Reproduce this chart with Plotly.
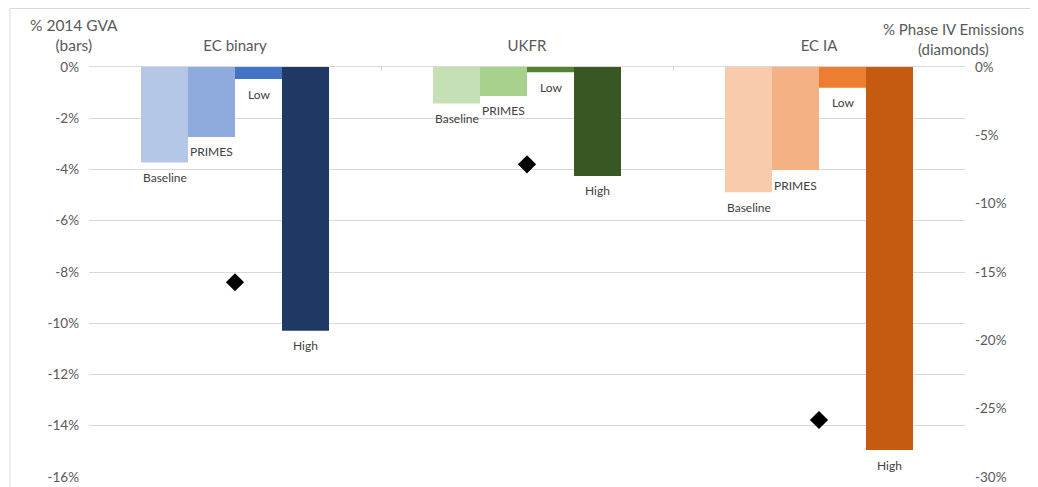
import plotly.graph_objects as go

groups = ["EC binary", "UKFR", "EC IA"]
series = ["Baseline", "PRIMES", "Low", "High"]
gva_baseline = [-3.73, -1.42, -4.89]
gva_primes = [-2.73, -1.13, -4.02]
gva_low = [-0.47, -0.20, -0.81]
gva_high = [-10.29, -4.25, -14.95]
emissions = [-15.75, -7.12, -25.83]

colors_baseline = ["#b4c7e7", "#c5e0b4", "#f8cbad"]
colors_primes = ["#8faadc", "#a9d18e", "#f4b183"]
colors_low = ["#4472c4", "#548235", "#ed7d31"]
colors_high = ["#203864", "#385723", "#c55a11"]

gva_ticks = [0, -2, -4, -6, -8, -10, -12, -14, -16]
gva_ticktext = ["0%", "-2%", "-4%", "-6%", "-8%", "-10%", "-12%", "-14%", "-16%"]
em_ticks = [0, -5, -10, -15, -20, -25, -30]
em_ticktext = ["0%", "-5%", "-10%", "-15%", "-20%", "-25%", "-30%"]

series_values = [gva_baseline, gva_primes, gva_low, gva_high]
series_colors = [colors_baseline, colors_primes, colors_low, colors_high]

FONT = "Lato, 'Open Sans', sans-serif"
GREY = "#595959"

fig = go.Figure()
for name, vals, cols in zip(series, series_values, series_colors):
    fig.add_trace(go.Bar(x=groups, y=vals, name=name, marker=dict(color=cols, line=dict(width=0)),
                         yaxis="y"))

fig.add_trace(go.Scatter(x=groups, y=emissions, yaxis="y2", mode="markers",
                         marker=dict(symbol="diamond", size=14, color="black"), name="Emissions"))

# bar labels below each bar
bar_w = 47
for i, (name, vals) in enumerate(zip(series, series_values)):
    for g, v in zip(groups, vals):
        fig.add_annotation(x=g, y=v, xref="x", yref="y", text=name, showarrow=False,
                           xshift=(i - 1.5) * bar_w, yshift=-15,
                           font=dict(family=FONT, size=12, color="#404040"))

# page has an 8px body margin: figure is placed at (8, 8) in the window
fig.update_layout(
    width=1030, height=479,
    margin=dict(l=81, r=73, t=59, b=10, autoexpand=False),
    paper_bgcolor="white", plot_bgcolor="white",
    showlegend=False,
    barmode="group", bargap=0.356, bargroupgap=0,
    font=dict(family=FONT, color=GREY),
    xaxis=dict(side="top", showline=True, linecolor="#d9d9d9", linewidth=1,
               ticks="inside", ticklen=4, tickcolor="#d9d9d9", tickson="boundaries",
               tickfont=dict(size=15, color=GREY), showgrid=False, ticklabelstandoff=9,
               automargin=False),
    yaxis=dict(range=[-16, 0], tickvals=gva_ticks, ticktext=gva_ticktext, showgrid=True,
               gridcolor="#d9d9d9", zeroline=False, showline=False, ticklabelstandoff=9,
               tickfont=dict(size=13.5, color=GREY), automargin=False),
    yaxis2=dict(range=[-30, 0], tickvals=em_ticks, ticktext=em_ticktext, overlaying="y", side="right",
                showgrid=False, zeroline=False, showline=False, ticklabelstandoff=9,
                tickfont=dict(size=13.5, color=GREY), automargin=False),
)

fig.add_annotation(xref="paper", yref="paper", x=(74 - 89) / 876, y=1, yshift=32,
                   text="% 2014 GVA<br>(bars)", showarrow=False, xanchor="center", yanchor="middle",
                   font=dict(family=FONT, size=15.5, color=GREY))
fig.add_annotation(xref="paper", yref="paper", x=(953 - 89) / 876, y=1, yshift=28,
                   text="% Phase IV Emissions<br>(diamonds)", showarrow=False, xanchor="center", yanchor="middle",
                   font=dict(family=FONT, size=15, color=GREY))

fig.add_shape(type="rect", xref="paper", yref="paper",
              x0=(10 - 89) / 876, x1=(1033 - 89) / 876, y0=-0.2, y1=(477 - 8.5) / 410,
              line=dict(color="#d9d9d9", width=1), fillcolor="rgba(0,0,0,0)", layer="below")

fig.write_html("out.html")
